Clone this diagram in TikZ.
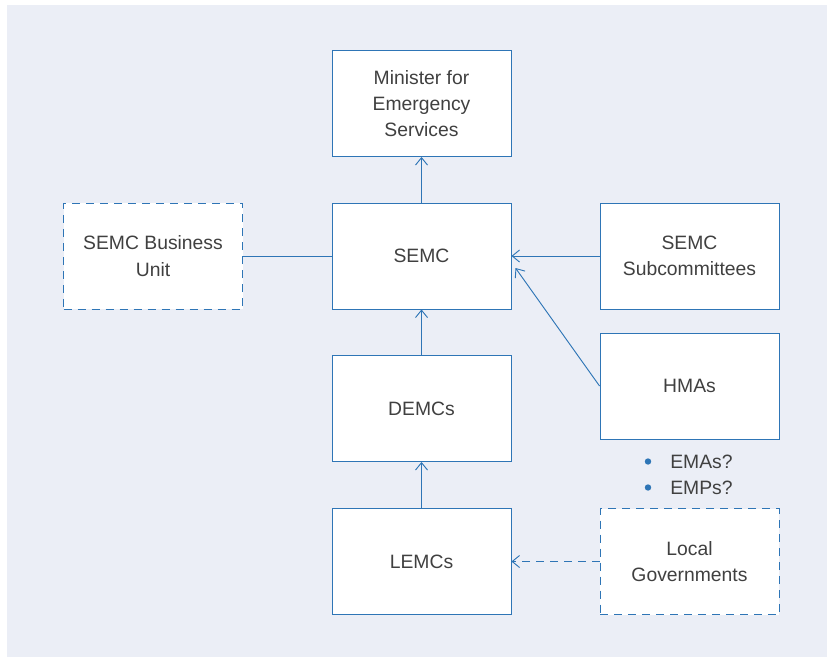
\documentclass[tikz,border=0pt]{standalone}
\usepackage{fontspec}
\setmainfont{Liberation Sans}
\usetikzlibrary{arrows.meta}
\definecolor{boxblue}{RGB}{46,117,182}
\definecolor{txtgrey}{RGB}{64,64,64}
\definecolor{bgblue}{RGB}{235,238,246}

\tikzset{
  body/.style={draw=boxblue, fill=white, line width=0.7pt, minimum width=134.25pt,
    minimum height=79.5pt, inner sep=2pt, align=center, text=txtgrey,
    font=\fontsize{14.5}{19.8}\selectfont},
  dashbody/.style={body, dash pattern=on 6pt off 4.5pt},
  note/.style={anchor=west, text=txtgrey, inner sep=0pt, font=\fontsize{14.5}{17}\selectfont},
  link/.style={draw=boxblue, line width=0.7pt},
  feed/.style={link, -{Straight Barb[length=5.5pt,width=9pt]}}
}

\begin{document}
\begin{tikzpicture}[x=0.75pt,y=-0.75pt]
\useasboundingbox (0,0) rectangle (827,657);
\fill[bgblue] (7,5) rectangle (827,657);

% main chain
\node[body] (minister) at (421.5,103.5) {Minister for\\Emergency\\Services};
\node[body] (semc) at (421.5,256) {SEMC};
\node[body] (demcs) at (421.5,408.5) {DEMCs};
\node[body] (lemcs) at (421.5,561.5) {LEMCs};

% side boxes
\node[dashbody] (unit) at (153,256) {SEMC Business\\Unit};
\node[body] (subcom) at (689.5,256) {SEMC\\Subcommittees};
\node[body] (hmas) at (689.5,386) {HMAs};
\node[dashbody] (localgov) at (689.5,561.5) {Local\\Governments};

% notes under HMAs
\fill[boxblue] (648,461.5) circle (2.4pt);
\node[note] (emas) at (670,462) {EMAs?};
\fill[boxblue] (648,487.5) circle (2.4pt);
\node[note] (emps) at (670,488) {EMPs?};
\coordinate (semcin) at (515.5,268);

\draw[feed] (semc) -- (minister);
\draw[feed] (demcs) -- (semc);
\draw[feed] (lemcs) -- (demcs);
\draw[link] (unit) -- (semc);
\draw[feed] (subcom) -- (semc);
\draw[feed] (hmas.west) -- (semcin);
\draw[feed, dash pattern=on 6pt off 4.5pt] (localgov) -- (lemcs);
\end{tikzpicture}
\end{document}
